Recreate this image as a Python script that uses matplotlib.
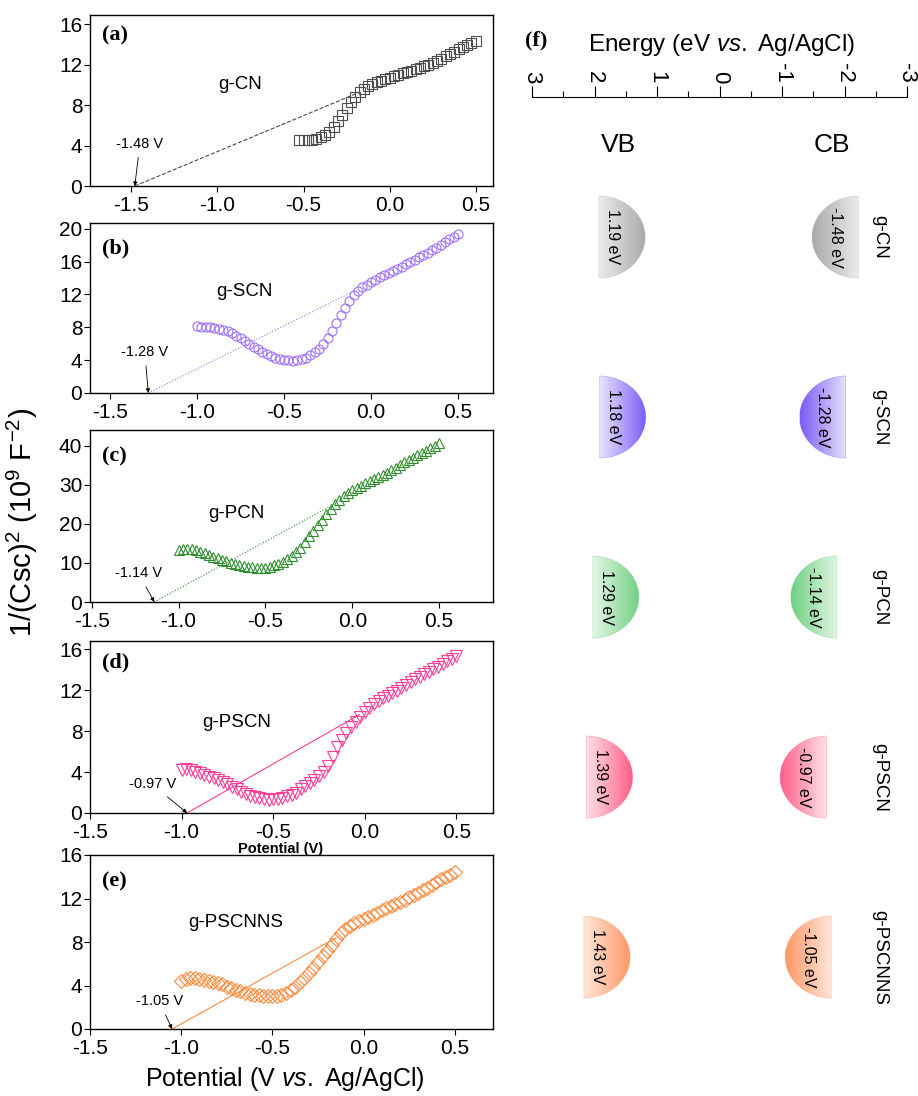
import numpy as np
import matplotlib.pyplot as plt
from matplotlib.colors import LinearSegmentedColormap
from matplotlib.patches import Polygon

plt.rcParams['font.family'] = ['Liberation Sans', 'DejaVu Sans']
plt.rcParams['mathtext.fontset'] = 'custom'
plt.rcParams['mathtext.rm'] = 'Liberation Sans'
plt.rcParams['mathtext.it'] = 'Liberation Sans:italic'
plt.rcParams['axes.unicode_minus'] = False

# Mott-Schottky data: 1/(Csc)^2 (10^9 F^-2) vs potential (V vs Ag/AgCl)
samples = ['g-CN', 'g-SCN', 'g-PCN', 'g-PSCN', 'g-PSCNNS']
pot_cn = np.arange(-0.525, 0.5001, 0.025)
pot = np.arange(-1.0, 0.5001, 0.025)

ms_cn = [4.5, 4.5, 4.5, 4.55, 4.65, 4.8, 5.0, 5.3, 5.8, 6.4,
         7.0, 7.7, 8.3, 8.8, 9.25, 9.6, 9.9, 10.1, 10.25, 10.4,
         10.55, 10.7, 10.85, 11.0, 11.15, 11.3, 11.4, 11.55, 11.7, 11.85,
         12.0, 12.2, 12.4, 12.6, 12.8, 13.0, 13.25, 13.5, 13.7, 13.9,
         14.1, 14.3]
ms_scn = [8.1, 8.05, 8.0, 8.0, 7.95, 7.85, 7.7, 7.5, 7.3, 7.0,
          6.7, 6.35, 6.0, 5.65, 5.3, 5.0, 4.7, 4.5, 4.3, 4.15,
          4.05, 4.0, 3.95, 4.0, 4.1, 4.3, 4.6, 4.95, 5.4, 6.0,
          6.7, 7.6, 8.5, 9.5, 10.4, 11.2, 11.9, 12.45, 12.9, 13.2,
          13.5, 13.8, 14.1, 14.35, 14.6, 14.85, 15.1, 15.4, 15.7, 15.95,
          16.2, 16.5, 16.8, 17.1, 17.4, 17.7, 18.0, 18.35, 18.7, 19.0, 19.3]
ms_pcn = [13.2, 13.5, 13.6, 13.6, 13.3, 12.9, 12.5, 12.0, 11.6, 11.2,
          10.8, 10.45, 10.1, 9.8, 9.5, 9.25, 9.0, 8.85, 8.7, 8.7,
          8.8, 9.05, 9.4, 9.8, 10.3, 10.9, 11.7, 12.7, 13.8, 15.3,
          16.8, 18.2, 19.6, 21.1, 22.5, 23.8, 25.1, 26.2, 27.2, 28.0,
          28.6, 29.2, 29.8, 30.4, 31.0, 31.5, 32.0, 32.5, 33.0, 33.7,
          34.4, 35.1, 35.7, 36.2, 36.8, 37.5, 38.1, 38.7, 39.3, 40.0, 40.6]
ms_pscn = [4.2, 4.25, 4.2, 4.05, 3.9, 3.75, 3.55, 3.4, 3.2, 3.0,
           2.8, 2.55, 2.3, 2.1, 1.9, 1.7, 1.55, 1.45, 1.35, 1.3,
           1.35, 1.4, 1.5, 1.65, 1.8, 2.0, 2.3, 2.6, 2.9, 3.2,
           3.6, 4.0, 4.6, 5.5, 6.4, 7.1, 7.8, 8.4, 8.9, 9.4,
           9.9, 10.3, 10.6, 10.9, 11.2, 11.45, 11.7, 11.95, 12.2, 12.5,
           12.8, 13.05, 13.3, 13.55, 13.8, 14.05, 14.3, 14.55, 14.8, 15.05, 15.3]
ms_pscnns = [4.4, 4.6, 4.65, 4.65, 4.6, 4.55, 4.45, 4.35, 4.25, 4.1,
             3.9, 3.75, 3.6, 3.45, 3.35, 3.25, 3.15, 3.1, 3.05, 3.0,
             3.0, 3.05, 3.15, 3.35, 3.6, 3.9, 4.3, 4.7, 5.15, 5.65,
             6.2, 6.7, 7.2, 7.75, 8.3, 8.8, 9.2, 9.5, 9.75, 9.95,
             10.1, 10.3, 10.5, 10.7, 10.9, 11.1, 11.3, 11.5, 11.7, 11.9,
             12.1, 12.3, 12.5, 12.75, 13.0, 13.25, 13.5, 13.75, 14.0, 14.2, 14.45]

# flat-band potentials (x-intercepts) and where the tangent lines end
flatband = [-1.48, -1.28, -1.14, -0.97, -1.05]
fit_end_x = [-0.17, -0.08, -0.135, -0.03, -0.15]
fit_end_y = [9.3, 12.6, 24.3, 9.6, 8.4]

# band positions (eV vs Ag/AgCl)
vb = [1.19, 1.18, 1.29, 1.39, 1.43]
cb = [-1.48, -1.28, -1.14, -0.97, -1.05]

xs = [pot_cn, pot, pot, pot, pot]
ys = [ms_cn, ms_scn, ms_pcn, ms_pscn, ms_pscnns]
tags = ['(a)', '(b)', '(c)', '(d)', '(e)']
colors = ['#4d4d4d', '#a070ff', '#2f8f2f', '#ff3d96', '#ff8a3d']
markers = ['s', 'o', '^', 'v', 'D']
msizes = [6.5, 6.5, 7.5, 8.5, 7.5]
fit_styles = ['--', ':', ':', '-', '-']
xlims = [(-1.74, 0.60), (-1.615, 0.70), (-1.51, 0.81), (-1.5, 0.70), (-1.5, 0.71)]
ylims = [(0, 16.9), (0, 20.7), (0, 44), (0, 16.8), (0, 16)]
yticks = [np.arange(0, 17, 4), np.arange(0, 21, 4), np.arange(0, 41, 10),
          np.arange(0, 17, 4), np.arange(0, 17, 4)]
boxes = [(15, 186), (223, 393), (430, 602), (641, 813), (855, 1029)]
name_pos = [(-0.87, 10.0), (-0.73, 12.3), (-0.67, 22.6), (-0.70, 8.8), (-0.70, 9.75)]
fb_text_pos = [(-1.45, 4.2), (-1.30, 5.0), (-1.23, 7.3), (-1.16, 2.8), (-1.12, 2.55)]
tag_y = [0.88, 0.85, 0.845, 0.875, 0.845]

W, H = 918, 1096
fig = plt.figure(figsize=(W / 100, H / 100), dpi=100)

for i in range(5):
    top, bot = boxes[i]
    ax = fig.add_axes([90 / W, 1 - bot / H, 403 / W, (bot - top) / H])
    ax.plot(xs[i], ys[i], linestyle='none', marker=markers[i], ms=msizes[i],
            mfc='none', mec=colors[i], mew=0.8)
    ax.plot([flatband[i], fit_end_x[i]], [0, fit_end_y[i]], fit_styles[i],
            color=colors[i], lw=0.8)
    ax.annotate('%.2f V' % flatband[i], xy=(flatband[i], 0), xytext=fb_text_pos[i],
                ha='center', va='center', fontsize=10.5,
                arrowprops=dict(arrowstyle='-|>', color='k', lw=0.6,
                                mutation_scale=6, shrinkA=3, shrinkB=0))
    ax.text(name_pos[i][0], name_pos[i][1], samples[i], fontsize=13.5,
            ha='center', va='center')
    ax.text(0.03, tag_y[i], tags[i], transform=ax.transAxes, fontsize=16,
            fontweight='bold', family='Liberation Serif', va='center')
    ax.set_xlim(*xlims[i])
    ax.set_ylim(*ylims[i])
    ax.set_xticks([-1.5, -1.0, -0.5, 0.0, 0.5])
    ax.set_yticks(yticks[i])
    ax.tick_params(direction='out', length=4, width=0.8, labelsize=15, pad=1.5)
    ax.tick_params(axis='x', pad=3)
    for s in ax.spines.values():
        s.set_linewidth(1.0)

fig.text(281 / W, 1 - 849 / H, 'Potential (V)', fontsize=10.5, fontweight='bold',
         ha='center', va='center')
fig.text(285 / W, 1 - 1079 / H, 'Potential (V $\\mathit{vs.}$ Ag/AgCl)', fontsize=18,
         ha='center', va='center')
fig.text(22 / W, 1 - 522 / H, '1/(Csc)$^2$ (10$^9$ F$^{-2}$)', fontsize=21,
         rotation=90, ha='center', va='center')

# (f) band-edge diagram
axf = fig.add_axes([532 / W, 1 - 1040 / H, 375 / W, (1040 - 97) / H])
for s in ['left', 'right', 'bottom']:
    axf.spines[s].set_visible(False)
axf.spines['top'].set_linewidth(0.8)
axf.xaxis.tick_top()
axf.set_xticks([3, 2, 1, 0, -1, -2, -3])
axf.set_xticklabels(['3', '2', '1', '0', '-1', '-2', '-3'])
axf.set_xticks([2.5, 1.5, 0.5, -0.5, -1.5, -2.5], minor=True)
axf.tick_params(axis='x', which='major', direction='out', length=8, width=0.8,
                labelsize=16, labelrotation=-90, pad=2)
axf.tick_params(axis='x', which='minor', direction='out', length=4, width=0.8)
axf.set_yticks([])

shade_light = ['#ececec', '#e8e2ff', '#e4f6e7', '#ffe2e9', '#ffe6da']
shade_dark = ['#a9a9a9', '#7a5cf5', '#6fd081', '#ff5f88', '#ff9766']
w = 0.74
h = 0.228
t = np.linspace(-np.pi / 2, np.pi / 2, 80)
grad = np.linspace(0, 1, 200).reshape(1, -1)
for i in range(5):
    cmap = LinearSegmentedColormap.from_list('g%d' % i, [shade_light[i], shade_dark[i]])
    for e, side in [(vb[i], 1), (cb[i], -1)]:
        flat = e + side * w
        px = flat - side * w * np.cos(t)
        py = i + h * np.sin(t)
        poly = Polygon(np.column_stack([px, py]), closed=True, facecolor='none',
                       edgecolor=shade_dark[i], lw=0.4, alpha=0.5)
        axf.add_patch(poly)
        im = axf.imshow(grad, cmap=cmap, extent=(flat, e, i + h, i - h),
                        aspect='auto', interpolation='bilinear')
        im.set_clip_path(poly)
        frac = 0.3 if side == 1 else 0.5
        axf.text(flat - side * w * frac, i, '%.2f eV' % e, rotation=-90,
                 fontsize=11.5, ha='center', va='center')
    axf.text(-2.57, i, samples[i], rotation=-90, fontsize=13.5,
             ha='center', va='center')

axf.text(1.61, -0.51, 'VB', fontsize=19, ha='center', va='center')
axf.text(-1.8, -0.51, 'CB', fontsize=19, ha='center', va='center')
axf.set_xlim(3, -3)
axf.set_ylim(4.461, -0.778)

fig.text(722 / W, 1 - 45 / H, 'Energy (eV $\\mathit{vs.}$ Ag/AgCl)', fontsize=17.5,
         ha='center', va='center')
fig.text(536 / W, 1 - 40 / H, '(f)', fontsize=16, fontweight='bold',
         family='Liberation Serif', ha='center', va='center')

fig.savefig('out.png', dpi=100)
